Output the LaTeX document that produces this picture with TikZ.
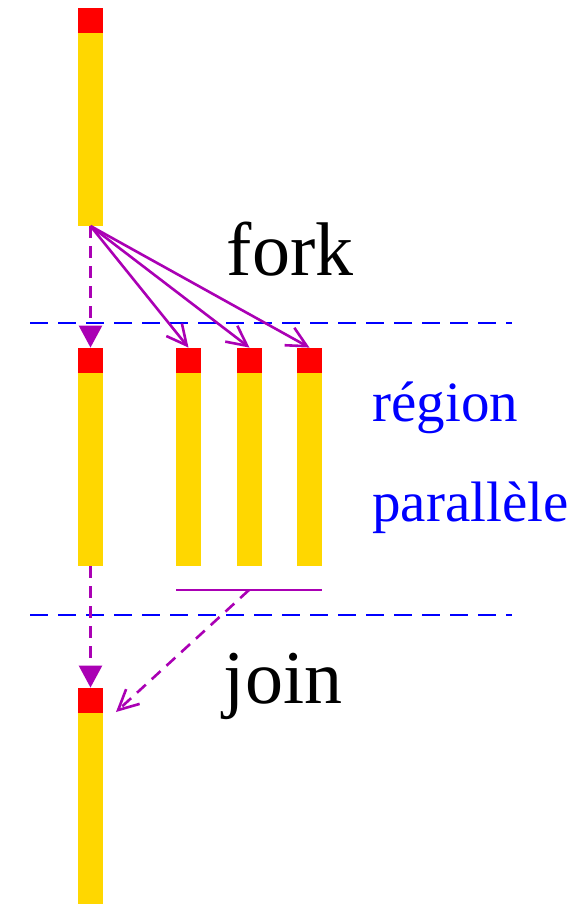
\documentclass[tikz,border=0pt]{standalone}
\usepackage{fontspec}
\setmainfont{Liberation Serif}
\usetikzlibrary{arrows.meta}
\definecolor{barjaune}{RGB}{255,215,0}
\definecolor{violet}{RGB}{170,0,180}
\tikzset{
  tete/.style={fill=red, draw=none, inner sep=0pt, minimum width=12.5pt, minimum height=12.5pt},
  fil/.style={violet, line width=1.3pt},
  sep/.style={blue, line width=1.1pt, dash pattern=on 9pt off 5pt},
  pointille/.style={dash pattern=on 6pt off 4pt},
  plein/.style={-{Triangle[length=11pt,width=11.5pt]}},
  ouvert/.style={-{Straight Barb[length=10pt,width=10pt,line width=1.3pt]}},
}
\begin{document}
\begin{tikzpicture}[x=0.5pt, y=-0.5pt]
 \useasboundingbox (0,0) rectangle (588,906);
 % fil maitre
 \node[tete] (m1) at (90.5,20) {};
 \fill[barjaune] (78,33) rectangle (103,226); \coordinate (b1) at (90.5,226);
 \node[tete] (m2) at (90.5,360.5) {};
 \fill[barjaune] (78,373) rectangle (103,566); \coordinate (b2) at (90.5,566);
 \node[tete] (m3) at (90.5,700.5) {};
 \fill[barjaune] (78,713) rectangle (103,904);
 % fils paralleles
 \foreach \i/\x in {1/188.5, 2/249.5, 3/309.5} {
   \node[tete] (p\i) at (\x,360.5) {};
   \fill[barjaune] (\x-12.5,373) rectangle (\x+12.5,566);
 }
 \draw[sep] (30,323) -- (512,323);
 \draw[sep] (30,615) -- (512,615);
 % fork
 \draw[fil, pointille, plein] (b1) -- (m2.north);
 \foreach \i in {1,2,3}
   \draw[fil, ouvert] (b1) -- (p\i.north);
 % join
 \coordinate (j1) at (176,590); \coordinate (j2) at (322,590); \coordinate (jm) at (249,590);
 \coordinate (jfin) at (116,712);
 \draw[fil] (j1) -- (j2);
 \draw[fil, pointille, plein] (b2) -- (m3.north);
 \draw[fil, pointille, ouvert] (jm) -- (jfin);
 \node[anchor=base, font=\fontsize{38}{40}\selectfont] (fork) at (290,275) {fork};
 \node[anchor=base, font=\fontsize{38}{40}\selectfont] (join) at (283,703) {join};
 \node[anchor=base west, blue, font=\fontsize{28.5}{30}\selectfont, inner sep=0pt] (reg) at (372,421) {région};
 \node[anchor=base west, blue, font=\fontsize{28.5}{30}\selectfont, inner sep=0pt] (par) at (372,521) {parallèle};
\end{tikzpicture}
\end{document}
